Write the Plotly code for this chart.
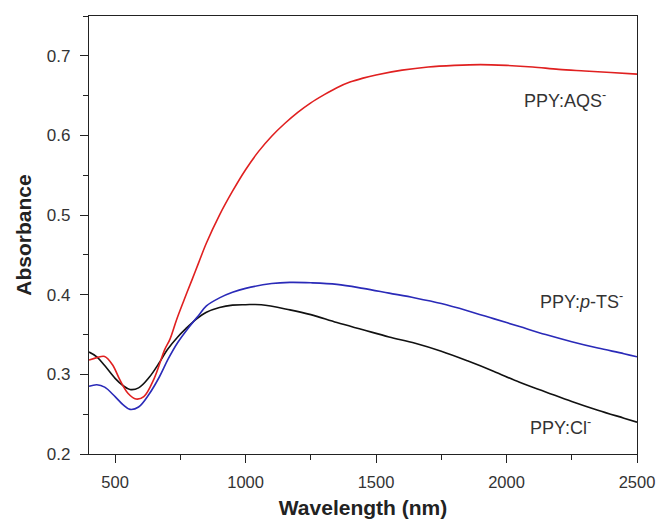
import plotly.graph_objects as go

# Wavelength (nm) and absorbance
wl_aqs = [400, 430, 460, 490, 520, 550, 580, 610, 650, 690, 710, 736, 765, 795, 820, 850,
          900, 950, 1000, 1050, 1100, 1150, 1200, 1250, 1300, 1350, 1400, 1450, 1500,
          1600, 1700, 1800, 1900, 2000, 2100, 2200, 2300, 2400, 2500]
abs_aqs = [0.318, 0.321, 0.3225, 0.312, 0.292, 0.276, 0.269, 0.272, 0.295, 0.331, 0.344,
           0.369, 0.394, 0.419, 0.440, 0.465, 0.500, 0.530, 0.557, 0.580, 0.599, 0.615,
           0.629, 0.641, 0.651, 0.660, 0.667, 0.672, 0.676, 0.682, 0.686, 0.688, 0.689,
           0.688, 0.686, 0.683, 0.681, 0.679, 0.677]

wl_pts = [400, 430, 460, 500, 530, 557, 590, 630, 670, 703, 740, 780, 820, 850, 900,
          950, 1000, 1100, 1170, 1250, 1350, 1450, 1550, 1650, 1750, 1850, 1950, 2050,
          2150, 2250, 2350, 2450, 2500]
abs_pts = [0.285, 0.287, 0.284, 0.272, 0.262, 0.256, 0.259, 0.275, 0.297, 0.319, 0.340,
           0.358, 0.374, 0.386, 0.396, 0.403, 0.408, 0.414, 0.4155, 0.415, 0.413, 0.408,
           0.402, 0.396, 0.389, 0.380, 0.370, 0.360, 0.350, 0.341, 0.333, 0.326, 0.322]

wl_cl = [400, 430, 460, 500, 530, 557, 590, 630, 670, 700, 740, 770, 810, 850, 900,
         950, 1000, 1060, 1170, 1250, 1350, 1450, 1550, 1650, 1750, 1850, 1950, 2050,
         2150, 2250, 2350, 2450, 2500]
abs_cl = [0.328, 0.322, 0.311, 0.295, 0.286, 0.281, 0.283, 0.296, 0.315, 0.331, 0.347,
          0.357, 0.369, 0.378, 0.384, 0.387, 0.3875, 0.3875, 0.381, 0.375, 0.365, 0.356,
          0.347, 0.339, 0.329, 0.317, 0.304, 0.290, 0.278, 0.266, 0.255, 0.245, 0.240]

labels = ["PPY:AQS<sup>-</sup>", "PPY:<i>p</i>-TS<sup>-</sup>", "PPY:Cl<sup>-</sup>"]
label_x = [2224, 2289, 2205]
label_y = [0.645, 0.393, 0.235]

x_ticks = [500, 1000, 1500, 2000, 2500]
y_ticks = [0.2, 0.3, 0.4, 0.5, 0.6, 0.7]

FONT = "Liberation Sans, Arial, sans-serif"

fig = go.Figure()
fig.add_trace(go.Scatter(x=wl_cl, y=abs_cl, mode="lines", line=dict(color="#111111", width=1.6, shape="spline")))
fig.add_trace(go.Scatter(x=wl_pts, y=abs_pts, mode="lines", line=dict(color="#2a2ab8", width=1.6, shape="spline")))
fig.add_trace(go.Scatter(x=wl_aqs, y=abs_aqs, mode="lines", line=dict(color="#e02020", width=1.6, shape="spline")))

for t, x, y in zip(labels, label_x, label_y):
    fig.add_annotation(x=x, y=y, text=t, showarrow=False,
                       font=dict(family=FONT, size=18, color="#333333"))

axis_common = dict(showline=True, linecolor="#222222", linewidth=1.2, mirror=True,
                   ticks="outside", ticklen=8, tickwidth=1.2, tickcolor="#222222",
                   showgrid=False, zeroline=False, automargin=False,
                   ticklabeloverflow="allow")

fig.update_xaxes(range=[400, 2500], tickvals=x_ticks, ticklabelstandoff=5,
                 tickfont=dict(family=FONT, size=16.5, color="#333333"),
                 minor=dict(ticks="outside", ticklen=5, tickwidth=1.2, tickcolor="#222222",
                            tick0=250, dtick=500),
                 title=dict(text="<b>Wavelength (nm)</b>", standoff=12,
                            font=dict(family=FONT, size=21, color="#222222")),
                 **axis_common)
fig.update_yaxes(range=[0.2, 0.75], tickvals=y_ticks, tickformat=".1f", ticklabelstandoff=6,
                 tickfont=dict(family=FONT, size=17, color="#333333"),
                 minor=dict(ticks="outside", ticklen=5, tickwidth=1.2, tickcolor="#222222",
                            tick0=0.25, dtick=0.1),
                 title=dict(text="<b>Absorbance</b>", standoff=9,
                            font=dict(family=FONT, size=21, color="#222222")),
                 **axis_common)

fig.update_layout(width=656, height=519, showlegend=False,
                  plot_bgcolor="white", paper_bgcolor="white",
                  margin=dict(l=89, r=19, t=16, b=65))

fig.write_html("out.html")
